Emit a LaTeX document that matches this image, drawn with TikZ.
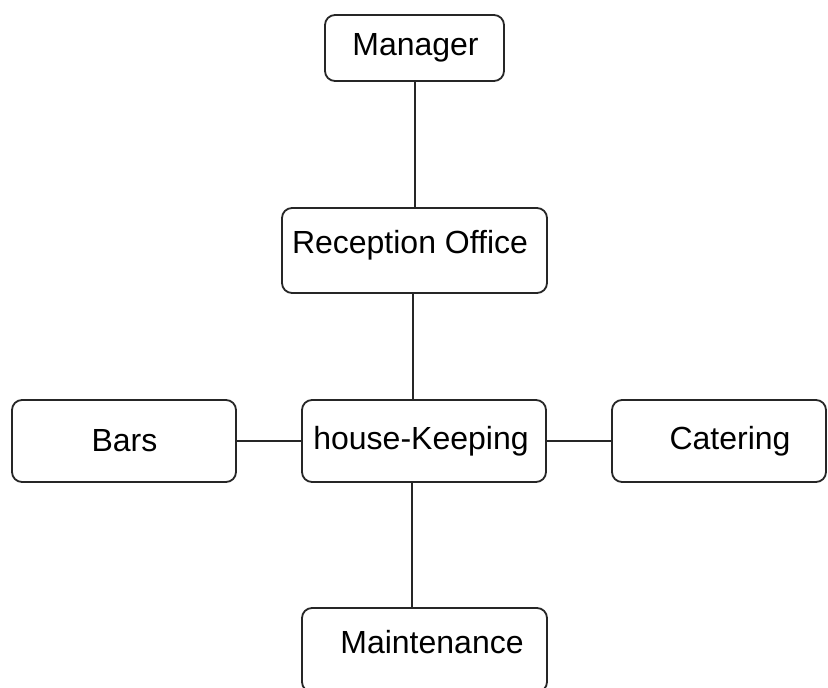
\documentclass[tikz,border=0pt]{standalone}
\usepackage{fontspec}
\setmainfont{Liberation Sans}
\begin{document}
\begin{tikzpicture}[x=1pt,y=-1pt,
  box/.style={draw=black!85, line width=1.8pt, rounded corners=10pt,
    inner sep=0pt, font=\fontsize{32}{36}\selectfont},
  lbl/.style={inner sep=0pt, font=\fontsize{32}{36}\selectfont},
  link/.style={draw=black!85, line width=1.9pt}]
\useasboundingbox (0,0) rectangle (828,688);
\clip (0,0) rectangle (828,688);

% organisation chart boxes
\node[box, minimum width=179pt, minimum height=66pt] (mgr) at (414.5,48) {};
\node[lbl] (mgrt) at (415.5,48) {Manager};

\node[box, minimum width=265pt, minimum height=85pt] (rec) at (414.5,250.5) {};
\node[lbl] (rect) at (410,245) {Reception Office};

\node[box, minimum width=224pt, minimum height=82pt] (bars) at (124,441) {};
\node[lbl] (barst) at (124.5,441) {Bars};

\node[box, minimum width=244pt, minimum height=82pt] (hk) at (424,441) {};
\node[lbl] (hkt) at (421,441) {house-Keeping};

\node[box, minimum width=214pt, minimum height=82pt] (cat) at (719,441) {};
\node[lbl] (catt) at (730,441) {Catering};

\node[box, minimum width=245pt, minimum height=84pt] (mnt) at (424.5,650) {};
\node[lbl] (mntt) at (432,642) {Maintenance};

% reporting lines
\draw[link] (mgr.south -| 415,0) -- (rec.north -| 415,0);
\draw[link] (rec.south -| 413,0) -- (hk.north -| 413,0);
\draw[link] (hk.south -| 412,0) -- (mnt.north -| 412,0);
\draw[link] (bars.east) -- (hk.west);
\draw[link] (hk.east) -- (cat.west);
\end{tikzpicture}
\end{document}
